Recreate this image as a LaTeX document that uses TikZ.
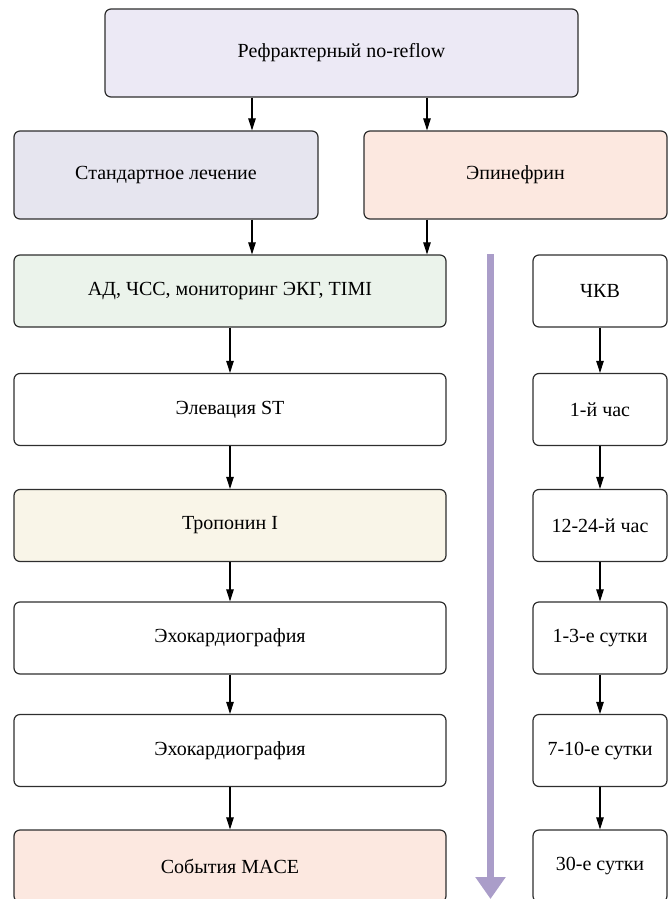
\documentclass[tikz,border=0pt]{standalone}
\usepackage{fontspec}
\setmainfont{Liberation Serif}
\usetikzlibrary{arrows.meta, positioning}
\definecolor{boxline}{HTML}{2E2E2E}
\definecolor{lilac}{HTML}{ECE9F5}
\definecolor{greylilac}{HTML}{E6E5EF}
\definecolor{peach}{HTML}{FCE8E0}
\definecolor{mint}{HTML}{EBF3EB}
\definecolor{cream}{HTML}{F9F5E8}
\definecolor{timeline}{HTML}{AA9DC9}
\tikzset{
  box/.style={draw=boxline, line width=1.2pt, rounded corners=6pt, align=center, inner sep=0pt, font=\fontsize{20}{24}\selectfont},
  lbox/.style={box, minimum width=432pt, minimum height=72pt},
  rbox/.style={box, minimum width=134pt, minimum height=72pt},
  flow/.style={-{Triangle[length=12pt,width=7.5pt]}, line width=1.1pt},
  timearrow/.style={line width=7pt, draw=timeline, -{Triangle[length=22pt,width=29pt]}}
}

\begin{document}
\begin{tikzpicture}[x=1pt, y=-1pt]
	\useasboundingbox (0,0) rectangle (668,899);
	\node[box, fill=lilac, minimum width=473pt, minimum height=88pt] (refr) at (341.5,53) {Рефрактерный no-reflow};
	\node[box, fill=greylilac, minimum width=304pt, minimum height=88pt] (std) at (166,175) {Стандартное лечение};
	\node[box, fill=peach, minimum width=303pt, minimum height=88pt] (epi) at (515.5,175) {Эпинефрин};
	\node[lbox, fill=mint] (ad) at (230,291) {АД, ЧСС, мониторинг ЭКГ, TIMI};
	\node[lbox] (elev) at (230,409.5) {Элевация ST};
	\node[lbox, fill=cream] (trop) at (230,525.5) {Тропонин I};
	\node[lbox] (echoa) at (230,638) {Эхокардиография};
	\node[lbox] (echob) at (230,750.5) {Эхокардиография};
	\node[lbox, fill=peach] (mace) at (230,866) {События MACE};
	\node[rbox] (pci) at (600,291) {ЧКВ};
	\node[rbox] (hone) at (600,409.5) {1-й час};
	\node[rbox] (htwo) at (600,525.5) {12-24-й час};
	\node[rbox] (dthree) at (600,638) {1-3-е сутки};
	\node[rbox] (dten) at (600,750.5) {7-10-е сутки};
	\node[rbox] (dthirty) at (600,866) {30-е сутки};
	\coordinate (lftx) at (252,0);
	\coordinate (rgtx) at (427,0);
	\coordinate (tltop) at (490.5,254);
	\coordinate (tlbot) at (490.5,899);
	\draw[flow] (refr.south -| lftx) -- (std.north -| lftx);
	\draw[flow] (refr.south -| rgtx) -- (epi.north -| rgtx);
	\draw[flow] (std.south -| lftx) -- (ad.north -| lftx);
	\draw[flow] (epi.south -| rgtx) -- (ad.north -| rgtx);
	\draw[flow] (ad) -- (elev);
	\draw[flow] (elev) -- (trop);
	\draw[flow] (trop) -- (echoa);
	\draw[flow] (echoa) -- (echob);
	\draw[flow] (echob) -- (mace);
	\draw[flow] (pci) -- (hone);
	\draw[flow] (hone) -- (htwo);
	\draw[flow] (htwo) -- (dthree);
	\draw[flow] (dthree) -- (dten);
	\draw[flow] (dten) -- (dthirty);
	\draw[timearrow] (tltop) -- (tlbot);
\end{tikzpicture}
\end{document}
